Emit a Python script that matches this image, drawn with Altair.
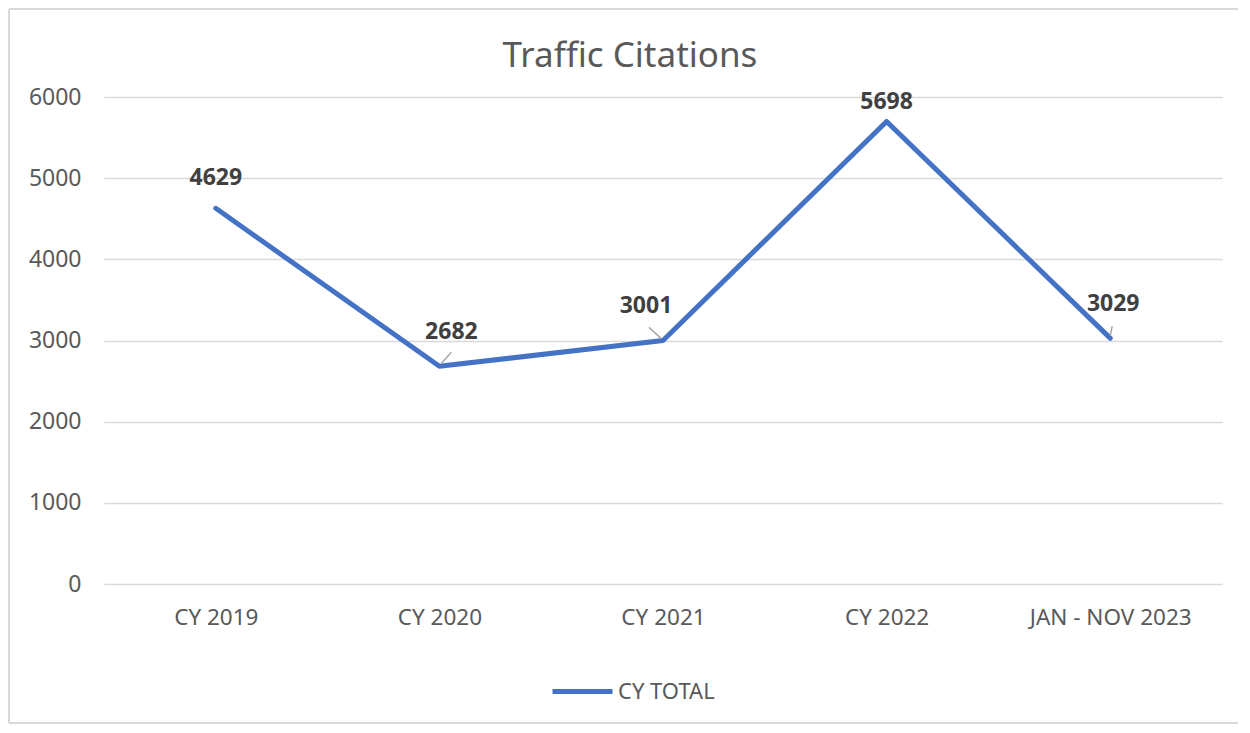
import altair as alt
import pandas as pd

categories = ["CY 2019", "CY 2020", "CY 2021", "CY 2022", "JAN - NOV 2023"]
values = [4629, 2682, 3001, 5698, 3029]
series_name = ["CY TOTAL"] * len(categories)
y_ticks = [0, 1000, 2000, 3000, 4000, 5000, 6000]
chart_title = "Traffic Citations"

df = pd.DataFrame({"period": categories, "citations": values, "series": series_name})

BLUE = "#4472C4"
GREY_TXT = "#595959"
GRID = "#D9D9D9"
FONT = "Noto Sans"

x_enc = alt.X(
    "period:N",
    sort=categories,
    scale=alt.Scale(type="point", padding=0.5),
    axis=alt.Axis(title=None, labelAngle=0, ticks=False, domain=False, grid=False,
                  labelPadding=22, labelFontSize=22.5, labelColor=GREY_TXT, labelFont=FONT),
)
y_enc = alt.Y(
    "citations:Q",
    scale=alt.Scale(domain=[0, 6000], nice=False),
    axis=alt.Axis(title=None, values=y_ticks, format="d", ticks=False, domain=False, grid=True,
                  gridColor=GRID, gridWidth=1.6, labelPadding=23, labelFontSize=23,
                  labelColor=GREY_TXT, labelFont=FONT),
)

base = alt.Chart(df)

single = alt.Chart(pd.DataFrame({"t": [chart_title]}))

# chart-area frame (top, left, bottom edges; right edge lies beyond the picture)
frame_style = dict(color=GRID, strokeWidth=2)
frame_top = single.mark_rule(**frame_style).encode(
    x=alt.value(-95), x2=alt.value(1134), y=alt.value(-88))
frame_left = single.mark_rule(**frame_style).encode(
    x=alt.value(-95), y=alt.value(-88), y2=alt.value(626))
frame_bottom = single.mark_rule(**frame_style).encode(
    x=alt.value(-95), x2=alt.value(1134), y=alt.value(626))

title = single.mark_text(
    fontSize=35, font=FONT, color=GREY_TXT, align="center", baseline="alphabetic"
).encode(x=alt.value(526), y=alt.value(-30), text="t:N")

line = base.mark_line(strokeWidth=5, strokeCap="round", strokeJoin="round").encode(
    x=x_enc,
    y=y_enc,
    color=alt.Color(
        "series:N",
        scale=alt.Scale(range=[BLUE]),
        legend=alt.Legend(title=None, orient="none", legendX=446, legendY=562,
                          symbolType="stroke", symbolSize=3600, symbolStrokeWidth=5,
                          labelFontSize=22, labelColor=GREY_TXT, labelFont=FONT,
                          labelOffset=3, padding=0),
    ),
)

label_style = dict(fontWeight="bold", fontSize=23, color="#404040", font=FONT)
label_place = [
    ("CY 2019", 0, -30),
    ("CY 2020", 12, -34),
    ("CY 2021", -17, -34),
    ("CY 2022", 0, -20),
    ("JAN - NOV 2023", 3, -34),
]
labels = [
    base.transform_filter(alt.datum.period == cat)
    .mark_text(dx=dx, dy=dy, **label_style)
    .encode(x=x_enc, y=y_enc, text=alt.Text("citations:Q", format="d"))
    for cat, dx, dy in label_place
]

leader_place = [
    ("CY 2020", 2, -3, 12, -14),
    ("CY 2021", -2, -2, -14, -13),
    ("JAN - NOV 2023", 0, -2, 2, -12),
]
leaders = [
    base.transform_filter(alt.datum.period == cat)
    .mark_rule(color="#A6A6A6", strokeWidth=1.5, xOffset=a, yOffset=b, x2Offset=c, y2Offset=d)
    .encode(x=x_enc, y=y_enc, x2=alt.X2("period:N"), y2=alt.Y2("citations:Q"))
    for cat, a, b, c, d in leader_place
]

chart = alt.layer(frame_top, frame_left, frame_bottom, title, line, *leaders, *labels).properties(
    width=1118,
    height=487,
    autosize=alt.AutoSizeParams(type="none"),
    padding={"left": 96, "top": 89, "right": 16, "bottom": 141},
).configure_view(stroke=None)

chart.save("out.html", embed_options={"renderer": "svg", "actions": False})
